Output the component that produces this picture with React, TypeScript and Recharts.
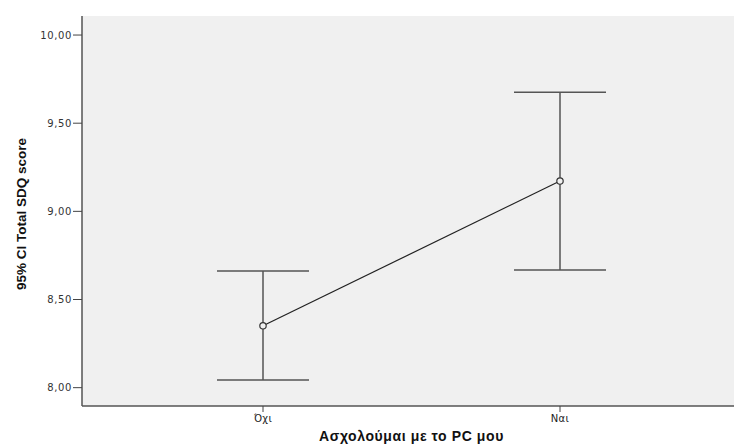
import React from 'react';
import {
  LineChart, Line, XAxis, YAxis, CartesianGrid, ErrorBar, Label,
} from 'recharts';

const categories = ['Όχι', 'Ναι'];
const means = [8.351, 9.172];
const lower = [8.044, 8.667];
const upper = [8.662, 9.675];
const yTicks = [8, 8.5, 9, 9.5, 10];

const data = categories.map((name, i) => ({
  name,
  mean: means[i],
  err: [means[i] - lower[i], upper[i] - means[i]],
}));

const FONT = '"Liberation Sans", Arial, sans-serif';
const TICK_FONT = '"DejaVu Sans", Verdana, sans-serif';

// rotated y axis title, placed near the left edge
const YTitle = (props: any) => {
  const vb = props.viewBox || {};
  const x = vb.x + 21;
  const y = vb.y + vb.height / 2 + 3;
  return (
    <text
      x={x}
      y={y}
      transform={`rotate(-90 ${x} ${y})`}
      textAnchor="middle"
      dominantBaseline="central"
      fontFamily={FONT}
      fontWeight="bold"
      fontSize={13.5}
      fill="#111"
    >
      95% CI Total SDQ score
    </text>
  );
};

// x axis title, centred on the plot (which runs past the right edge)
const XTitle = (props: any) => {
  const vb = props.viewBox || {};
  return (
    <text
      x={vb.x + vb.width / 2}
      y={vb.y + 30}
      textAnchor="middle"
      dominantBaseline="central"
      fontFamily={FONT}
      fontWeight="bold"
      fontSize={14}
      letterSpacing={0.6}
      fill="#111"
    >
      Ασχολούμαι με το PC μου
    </text>
  );
};

export default function App() {
  return (
    <div style={{ position: 'absolute', left: 0, top: 0, width: 734, height: 446, overflow: 'hidden', background: '#fff' }}>
      <LineChart
        width={800}
        height={446}
        data={data}
        margin={{ top: 16, right: 59, bottom: 0, left: 0 }}
        style={{ fontFamily: FONT }}
      >
        <CartesianGrid fill="#f0f0f0" horizontal={false} vertical={false} />
        <XAxis
          dataKey="name"
          padding={{ left: 181, right: 181 }}
          height={40}
          tickSize={6}
          tickMargin={3}
          stroke="#444"
          tick={{ fill: '#222', fontSize: 10, fontFamily: TICK_FONT, letterSpacing: 0.3 }}
          axisLine={{ stroke: '#555', strokeWidth: 1.5 }}
          tickLine={{ stroke: '#444' }}
        >
          <Label content={XTitle} />
        </XAxis>
        <XAxis
          xAxisId="top"
          orientation="top"
          dataKey="name"
          height={0}
          tick={false}
          tickLine={false}
          axisLine={{ stroke: '#888', strokeWidth: 2 }}
        />
        <YAxis
          domain={[7.896, 10.108]}
          ticks={yTicks}
          width={82}
          tickSize={9}
          tickMargin={1}
          allowDataOverflow
          tickFormatter={(v: number) => v.toFixed(2).replace('.', ',')}
          tick={{ fill: '#333', fontSize: 10, fontFamily: TICK_FONT, letterSpacing: 0.6 }}
          axisLine={{ stroke: '#555', strokeWidth: 1.5 }}
          tickLine={{ stroke: '#444' }}
        >
          <Label content={YTitle} />
        </YAxis>
        <Line
          dataKey="mean"
          stroke="#222"
          strokeWidth={1.2}
          dot={{ r: 3.2, stroke: '#333', strokeWidth: 1.2, fill: '#f0f0f0' }}
          activeDot={false}
          isAnimationActive={false}
        >
          <ErrorBar dataKey="err" direction="y" width={46} stroke="#555" strokeWidth={1.5} isAnimationActive={false} />
        </Line>
      </LineChart>
    </div>
  );
}
